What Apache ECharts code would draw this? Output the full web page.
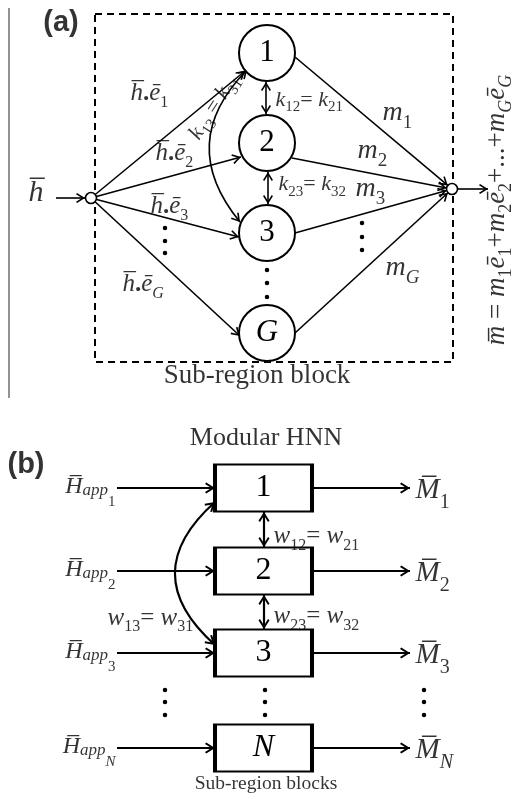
<!DOCTYPE html>
<html><head><meta charset="utf-8">
<script src="https://cdn.jsdelivr.net/npm/echarts@6/dist/echarts.min.js"></script>
<style>html,body{margin:0;padding:0;background:#fff}#c{width:521px;height:799px}</style>
</head><body><div id="c"></div>
<script>
const SERIF = "'Liberation Serif','Times New Roman',Times,serif";
const SANS = "'Liberation Sans',Arial,Helvetica,sans-serif";

// ---------------- Panel (a): sub-region block ----------------
const nodeLabelsA = ['{n|1}', '{n|2}', '{n|3}', '{i|G}'];
const nodePosA = [[267, 53], [267, 143], [267, 233], [267, 333]];
const inputPosA = [91, 198];
const outputPosA = [452, 189];
const inEndA = [[245, 71], [241, 157], [239, 237], [240, 336]];
const outStartA = [[295, 57], [292, 158], [295, 233], [295, 333]];
const hArrowA = [[56, 198], [85, 198]];
const outArrowA = [[458, 189], [488, 189]];
const kLinksA = [[[266, 82], [266, 114]], [[268, 172], [268, 204]]];
const kArcA = [[240, 222], [247, 70]];
const dashedBoxA = [[95, 14], [453, 14], [453, 362], [95, 362], [95, 14]];
const sideRuleA = [[9, 8], [9, 398]];
const dotsA = [[165, 228], [165, 241], [165, 253], [362, 223], [362, 237], [362, 250], [267, 270], [267, 283], [267, 297]];

// ---------------- Panel (b): modular HNN ----------------
const boxLabelsB = ['{n|1}', '{n|2}', '{n|3}', '{i|N}'];
const rowYB = [488, 571, 653, 748];
const boxXB = 263.5;
const inXB = [117, 215];
const outXB = [312, 410];
const wLinksB = [[[264, 512], [264, 547]], [[264, 595], [264, 629]]];
const wArcB = [[215, 645], [215, 502]];
const dotsB = [[165, 690], [165, 702], [165, 715], [265, 690], [265, 702], [265, 715], [424, 690], [424, 702], [424, 715]];
const hLabelsB = ['{i|H̅}{a|app}{s|1}', '{i|H̅}{a|app}{s|2}', '{i|H̅}{a|app}{s|3}', '{i|H̅}{a|app}{si|N}'];
const mLabelsB = ['{i|M̅}{s|1}', '{i|M̅}{s|2}', '{i|M̅}{s|3}', '{i|M̅}{si|N}'];

// ---------------- texts: [content, x, y, anchor, style, rotate] ----------------
const textsA = [
  ['{x|(a)}', 61, 23, 'c', 'tag', 0],
  ['{i|h̅}', 36, 193, 'c', 'h', 0],
  ['{i|h̅}{b|.}{i|ē}{s|1}', 130, 93.5, 'l', 'edge', 0],
  ['{i|h̅}{b|.}{i|ē}{s|2}', 155, 153.5, 'l', 'edge', 0],
  ['{i|h̅}{b|.}{i|ē}{s|3}', 150, 206.5, 'l', 'edge', 0],
  ['{i|h̅}{b|.}{i|ē}{si|G}', 122, 284.5, 'l', 'edge', 0],
  ['{i|k}{s|13}{n| = }{i|k}{s|31}', 214, 107, 'c', 'k', 57],
  ['{i|k}{s|12}{n|= }{i|k}{s|21}', 275, 100, 'l', 'k', 0],
  ['{i|k}{s|23}{n|= }{i|k}{s|32}', 278, 184.5, 'l', 'k', 0],
  ['{i|m}{s|1}', 382, 112.5, 'l', 'm', 0],
  ['{i|m}{s|2}', 357, 150.5, 'l', 'm', 0],
  ['{i|m}{s|3}', 355, 188.5, 'l', 'm', 0],
  ['{i|m}{si|G}', 385, 267.5, 'l', 'm', 0],
  ['{n|Sub-region block}', 257, 376, 'c', 'big', 0],
  ['{i|m̅}{n| = }{i|m}{s|1}{i|ē}{s|1}{n|+}{i|m}{s|2}{i|ē}{s|2}{n|+...+}{i|m}{si|G}{i|ē}{si|G}', 497, 210, 'c', 'formula', 90]
];
const textsB = [
  ['{x|(b)}', 26, 465, 'c', 'tag', 0],
  ['{n|Modular HNN}', 266, 438, 'c', 'title', 0],
  ['{i|w}{s|12}{n|= }{i|w}{s|21}', 273, 536.5, 'l', 'w', 0],
  ['{i|w}{s|23}{n|= }{i|w}{s|32}', 273, 616.5, 'l', 'w', 0],
  ['{i|w}{s|13}{n|= }{i|w}{s|31}', 107, 618, 'l', 'w', 0],
  ['{n|Sub-region blocks}', 266, 783.5, 'c', 'foot', 0]
];

// ---------------- rich text helpers ----------------
function buildRich(m, extra) {
  const toks = Object.assign({
    i: { size: m, italic: true, dy: 0 },
    n: { size: m, italic: false, dy: 0 },
    b: { size: m, italic: false, dy: 0, weight: 'bold' }
  }, extra || {});
  const Cm = -0.34 * m;
  let R = m / 2;
  for (const k in toks) {
    const t = toks[k];
    t.C = t.dy - 0.34 * t.size;
    R = Math.max(R, Cm - (t.C - t.size / 2), (t.C + t.size / 2) - Cm);
  }
  const top = Cm - R;
  const rich = {};
  for (const k in toks) {
    const t = toks[k];
    rich[k] = {
      fontFamily: t.font || SERIF, fontSize: t.size, height: t.size, lineHeight: 2 * R,
      fontStyle: t.italic ? 'italic' : 'normal', fontWeight: t.weight || 'normal',
      color: '#000', verticalAlign: 'top',
      padding: [t.C - t.size / 2 - top, 0, 0, 0]
    };
  }
  return rich;
}
const STYLES = {
  tag: buildRich(29, { x: { size: 29, dy: 0, weight: 'bold', font: SANS } }),
  h: buildRich(30),
  edge: buildRich(25, { s: { size: 16, dy: 6 }, si: { size: 16, dy: 6, italic: true } }),
  k: buildRich(22, { s: { size: 15, dy: 5 } }),
  m: buildRich(28, { s: { size: 19, dy: 7 }, si: { size: 19, dy: 7, italic: true } }),
  big: buildRich(27),
  formula: buildRich(27, { s: { size: 18, dy: 6 }, si: { size: 18, dy: 6, italic: true } }),
  title: buildRich(26),
  w: buildRich(25, { s: { size: 16, dy: 6 } }),
  foot: buildRich(19.5),
  node: buildRich(31),
  box: buildRich(32),
  H: buildRich(24, { a: { size: 17, dy: 1, italic: true }, s: { size: 15, dy: 12 }, si: { size: 15, dy: 12, italic: true } }),
  M: buildRich(29, { s: { size: 20, dy: 10 }, si: { size: 20, dy: 10, italic: true } })
};
const POS = { c: 'inside', l: 'right', r: 'left' };
function textItem(content, x, y, anchor, style, rotate) {
  return {
    value: [x, y],
    label: {
      show: true, position: POS[anchor], distance: 0, rotate: rotate || 0,
      formatter: () => content, rich: STYLES[style]
    }
  };
}

// ---------------- geometry from data ----------------
function toward(p, q, r) { // point at distance r from q toward p
  const dx = p[0] - q[0], dy = p[1] - q[1], L = Math.hypot(dx, dy);
  return [q[0] + dx / L * r, q[1] + dy / L * r];
}
const smallR = 5.5;
const arrowsA = [{ coords: hArrowA }, { coords: outArrowA }];
inEndA.forEach(e => arrowsA.push({ coords: [inputPosA, e] }));
outStartA.forEach(s => arrowsA.push({ coords: [s, toward(s, outputPosA, smallR)] }));
const arrowsB = [];
rowYB.forEach(y => {
  arrowsB.push({ coords: [[inXB[0], y], [inXB[1], y]] });
  arrowsB.push({ coords: [[outXB[0], y], [outXB[1], y]] });
});

const ARROW = 'path://M5,0L10,8L8.7,9L5,3L1.3,9L0,8Z M-4,-9L-3.999,-9Z M14,9L14.001,9Z';
const ARROW_B = 'path://M5,0L10,8L8.6,9.1L5,3.3L1.4,9.1L0,8Z M-4,-9L-3.999,-9Z M14,9L14.001,9Z';
const L = (extra) => Object.assign({ type: 'lines', coordinateSystem: 'cartesian2d', silent: true, animation: false, zlevel: 0, z: 2 }, extra);

const textData = [];
textsA.concat(textsB).forEach(t => textData.push(textItem(...t)));
rowYB.forEach((y, i) => {
  textData.push(textItem(hLabelsB[i], 116, y - 1, 'r', 'H', 0));
  textData.push(textItem(mLabelsB[i], 415, y + 2, 'l', 'M', 0));
});

const chart = echarts.init(document.getElementById('c'), null, { renderer: 'canvas' });
chart.setOption({
  animation: false,
  backgroundColor: '#fff',
  grid: { left: 0, right: 0, top: 0, bottom: 0 },
  xAxis: { type: 'value', min: 0, max: 521, show: false },
  yAxis: { type: 'value', min: 0, max: 799, inverse: true, show: false },
  series: [
    L({ polyline: true, symbol: 'none', lineStyle: { color: '#000', width: 2, type: [7, 5], opacity: 1 }, data: [{ coords: dashedBoxA }] }),
    L({ polyline: true, symbol: 'none', lineStyle: { color: '#6e6e6e', width: 1.5, opacity: 1 }, data: [{ coords: sideRuleA }] }),
    L({ symbol: ['none', ARROW], symbolSize: 18, lineStyle: { color: '#000', width: 1.6, opacity: 1 }, data: arrowsA }),
    L({ symbol: [ARROW, ARROW], symbolSize: 18, lineStyle: { color: '#000', width: 1.6, opacity: 1 }, data: kLinksA.map(c => ({ coords: c })) }),
    L({ symbol: [ARROW, ARROW], symbolSize: 18, lineStyle: { color: '#000', width: 1.6, opacity: 1, curveness: 0.45 }, data: [{ coords: kArcA }] }),
    L({ symbol: ['none', ARROW_B], symbolSize: 20, lineStyle: { color: '#000', width: 2.2, opacity: 1 }, data: arrowsB }),
    L({ symbol: [ARROW_B, ARROW_B], symbolSize: 20, lineStyle: { color: '#000', width: 2.2, opacity: 1 }, data: wLinksB.map(c => ({ coords: c })) }),
    L({ symbol: [ARROW_B, ARROW_B], symbolSize: 20, lineStyle: { color: '#000', width: 2.2, opacity: 1, curveness: 0.56 }, data: [{ coords: wArcB }] }),
    { // neurons of panel (a)
      type: 'scatter', silent: true, z: 5, symbol: 'circle', symbolSize: 56,
      itemStyle: { color: '#fff', borderColor: '#000', borderWidth: 2, opacity: 1 },
      data: nodePosA.map((p, i) => ({ value: p, label: { show: true, position: 'inside', formatter: () => nodeLabelsA[i], rich: STYLES.node } }))
    },
    { // input / output junctions
      type: 'scatter', silent: true, z: 5, symbol: 'circle', symbolSize: 2 * smallR,
      itemStyle: { color: '#fff', borderColor: '#000', borderWidth: 1.6, opacity: 1 },
      data: [inputPosA, outputPosA]
    },
    { // sub-region boxes of panel (b)
      type: 'scatter', silent: true, z: 5, symbol: 'rect', symbolSize: [97, 47],
      itemStyle: { color: '#fff', borderColor: '#000', borderWidth: 2.8, opacity: 1 },
      data: rowYB.map((y, i) => ({ value: [boxXB, y], label: { show: true, position: 'inside', formatter: () => boxLabelsB[i], rich: STYLES.box } }))
    },
    { // ellipsis dots
      type: 'scatter', silent: true, z: 5, symbol: 'circle', symbolSize: 4.5,
      itemStyle: { color: '#000', opacity: 1 },
      data: dotsA.concat(dotsB)
    },
    { // texts
      type: 'scatter', silent: true, z: 6, symbol: 'circle', symbolSize: 1,
      itemStyle: { color: 'rgba(0,0,0,0)' },
      data: textData
    }
  ]
});
</script>
</body></html>
